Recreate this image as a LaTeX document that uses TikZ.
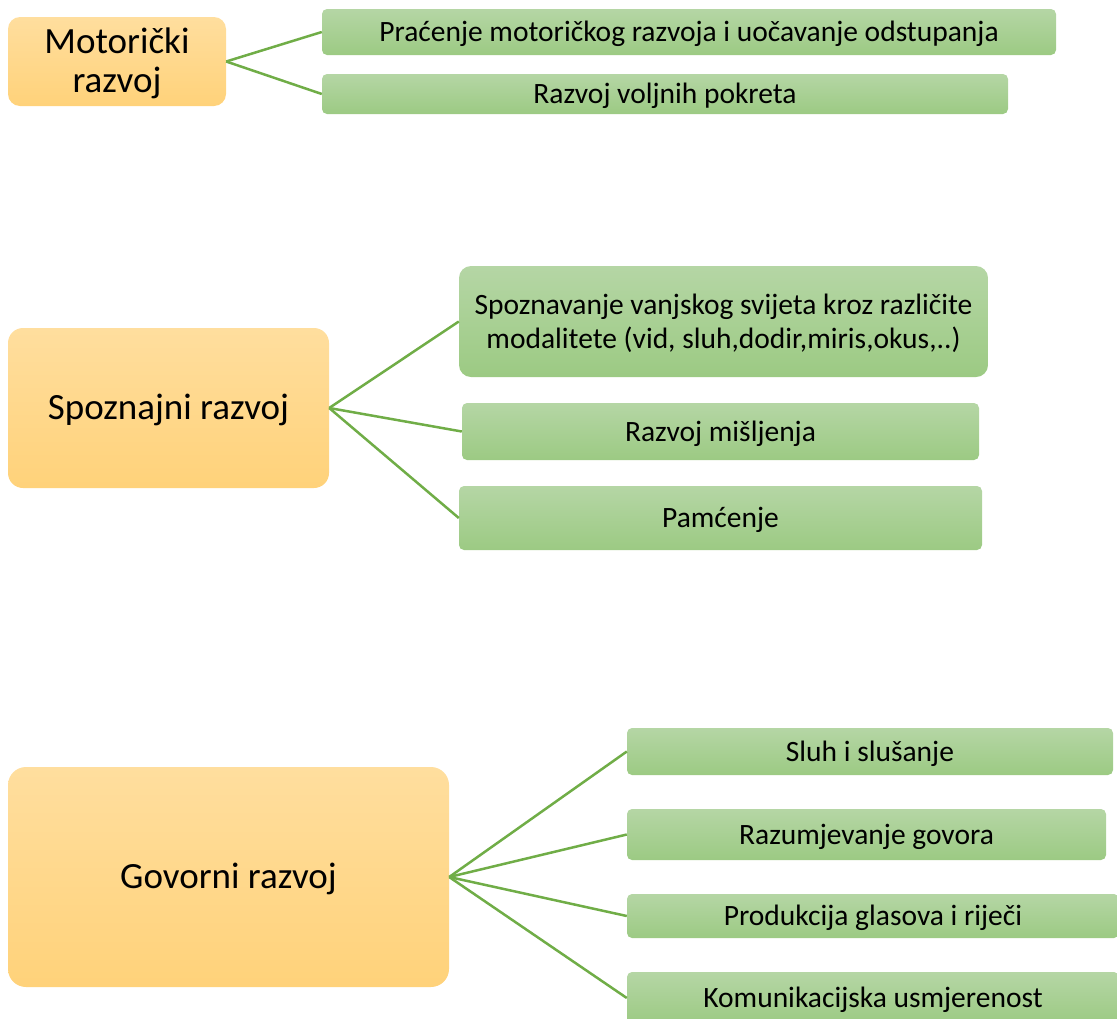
\documentclass[tikz,border=0pt]{standalone}
\usepackage{fontspec}
\setmainfont{Carlito}
\definecolor{orTop}{HTML}{FFDE9E}
\definecolor{orBot}{HTML}{FFD27A}
\definecolor{grTop}{HTML}{B5D6A5}
\definecolor{grBot}{HTML}{9CCA83}
\definecolor{lineG}{HTML}{70AD47}
\begin{document}
\begin{tikzpicture}[x=1pt,y=-1pt,
  mainbox/.style={rounded corners=12pt, top color=orTop, bottom color=orBot, draw=none, inner sep=0pt, align=center, text depth=2pt, font=\fontsize{37}{39}\selectfont},
  subbox/.style={rounded corners=5pt, top color=grTop, bottom color=grBot, draw=none, inner sep=0pt, align=center, text depth=1pt, font=\fontsize{29.5}{34}\selectfont},
  link/.style={draw=lineG, line width=2.5pt}]
\useasboundingbox (0,0) rectangle (1117,1018);
\clip (0,0) rectangle (1117,1018);
% Motoricki
\node[mainbox, minimum width=218pt, minimum height=89pt] (m) at (117,61.5) {Motorički\\razvoj};
\node[subbox, minimum width=734pt, minimum height=46pt] (m1) at (689,32) {Praćenje motoričkog razvoja i uočavanje odstupanja};
\node[subbox, minimum width=686pt, minimum height=40pt] (m2) at (665,94) {Razvoj voljnih pokreta};
% Spoznajni
\node[mainbox, rounded corners=15pt, minimum width=321pt, minimum height=160pt] (s) at (168.5,408) {Spoznajni razvoj};
\node[subbox, rounded corners=12pt, minimum width=529pt, minimum height=111pt] (s1) at (723.5,321.5) {Spoznavanje vanjskog svijeta kroz različite\\modalitete (vid, sluh,dodir,miris,okus,..)};
\node[subbox, minimum width=517pt, minimum height=57pt] (s2) at (720.5,431.5) {Razvoj mišljenja};
\node[subbox, minimum width=523pt, minimum height=64pt] (s3) at (720.5,518) {Pamćenje};
% Govorni
\node[mainbox, rounded corners=18pt, minimum width=441pt, minimum height=220pt] (g) at (228.5,877) {Govorni razvoj};
\node[subbox, minimum width=486pt, minimum height=47pt] (g1) at (870,751.5) {Sluh i slušanje};
\node[subbox, minimum width=479pt, minimum height=51pt] (g2) at (866.5,834.5) {Razumjevanje govora};
\node[subbox, minimum width=492pt, minimum height=44pt] (g3) at (873,916) {Produkcija glasova i riječi};
\node[subbox, minimum width=492pt, minimum height=52pt] (g4) at (873,998) {Komunikacijska usmjerenost};
% connectors
\foreach \t in {m1,m2} \draw[link] (m.east) -- (\t.west);
\foreach \t in {s1,s2,s3} \draw[link] (s.east) -- (\t.west);
\foreach \t in {g1,g2,g3,g4} \draw[link] (g.east) -- (\t.west);
\end{tikzpicture}
\end{document}
